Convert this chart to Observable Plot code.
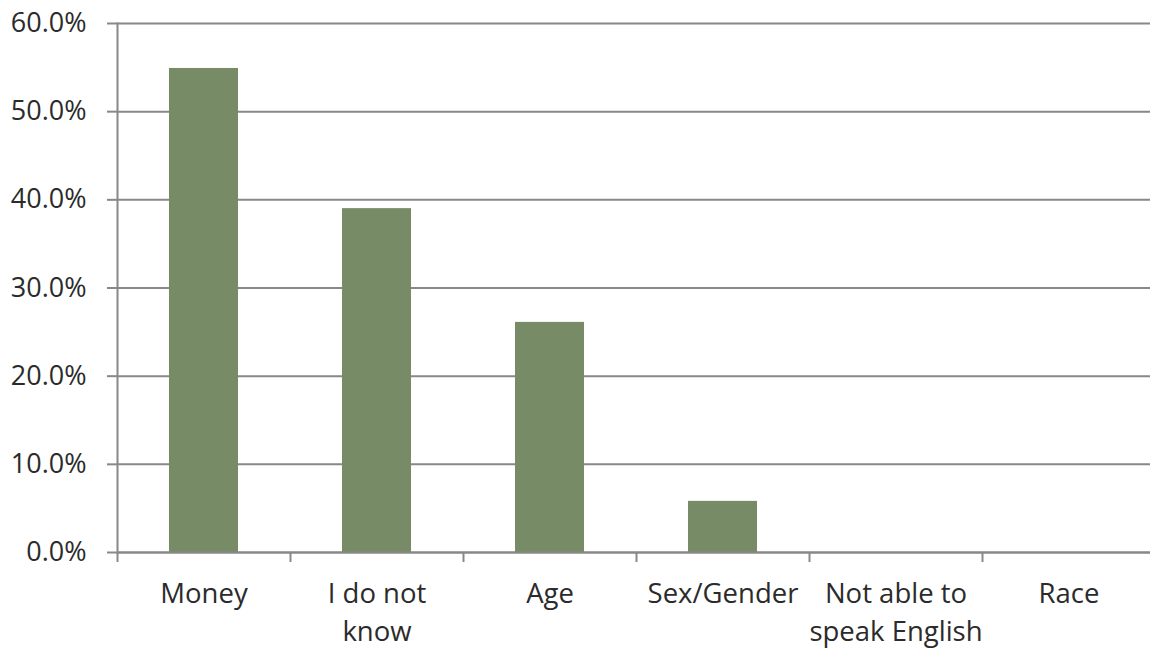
<!DOCTYPE html>
<html>
<head>
<meta charset="utf-8">
<script src="https://cdn.jsdelivr.net/npm/d3@7"></script>
<script src="https://cdn.jsdelivr.net/npm/@observablehq/plot@0.6"></script>
<style>
  html, body { margin: 0; padding: 0; background: #fff; }
  #chart svg { display: block; }
</style>
</head>
<body>
<div id="chart"></div>
<script>
const categories = ["Money", "I do not know", "Age", "Sex/Gender", "Not able to speak English", "Race"];
const tickLabels = ["Money", "I do not\nknow", "Age", "Sex/Gender", "Not able to\nspeak English", "Race"];
const values = [54.9, 39.0, 26.1, 5.8, 0, 0];
const yTicks = [0, 10, 20, 30, 40, 50, 60];

const data = categories.map((c, i) => ({category: c, value: values[i]}));
const labelOf = new Map(categories.map((c, i) => [c, tickLabels[i]]));

const W = 1150, H = 648;
const xRange = [117, 1155];
const step = (xRange[1] - xRange[0]) / categories.length;
const gridColor = "#888888";
const textColor = "#2b2b2b";

const chart = Plot.plot({
  width: W,
  height: H,
  marginLeft: 117,
  marginRight: 0,
  marginTop: 23,
  marginBottom: 96,
  style: {fontFamily: "'Open Sans', sans-serif", color: textColor, background: "#fff"},
  x: {domain: categories, range: xRange, paddingInner: 0.6, paddingOuter: 0.3},
  y: {domain: [0, 60], ticks: yTicks},
  marks: [
    Plot.gridY(yTicks, {stroke: gridColor, strokeOpacity: 1, strokeWidth: 2}),
    Plot.axisY(yTicks, {
      tickSize: 10, tickPadding: 21, stroke: gridColor, strokeWidth: 2,
      tickFormat: d => d.toFixed(1) + "%", fontSize: 27, fill: textColor, label: null
    }),
    Plot.barY(data, {x: "category", y: "value", fill: "#778b67"}),
    Plot.ruleY([0], {stroke: gridColor, strokeWidth: 2}),
    Plot.frame({anchor: "left", stroke: gridColor, strokeWidth: 2}),
    Plot.axisX({
      tickSize: 10, stroke: gridColor, strokeWidth: 2, text: null, dx: -step / 2, label: null
    }),
    Plot.axisX({
      tickSize: 0, tickPadding: 24, tickFormat: d => labelOf.get(d),
      fontSize: 27.5, lineHeight: 1.38, fill: textColor, label: null
    })
  ]
});
document.getElementById("chart").appendChild(chart);
</script>
</body>
</html>
